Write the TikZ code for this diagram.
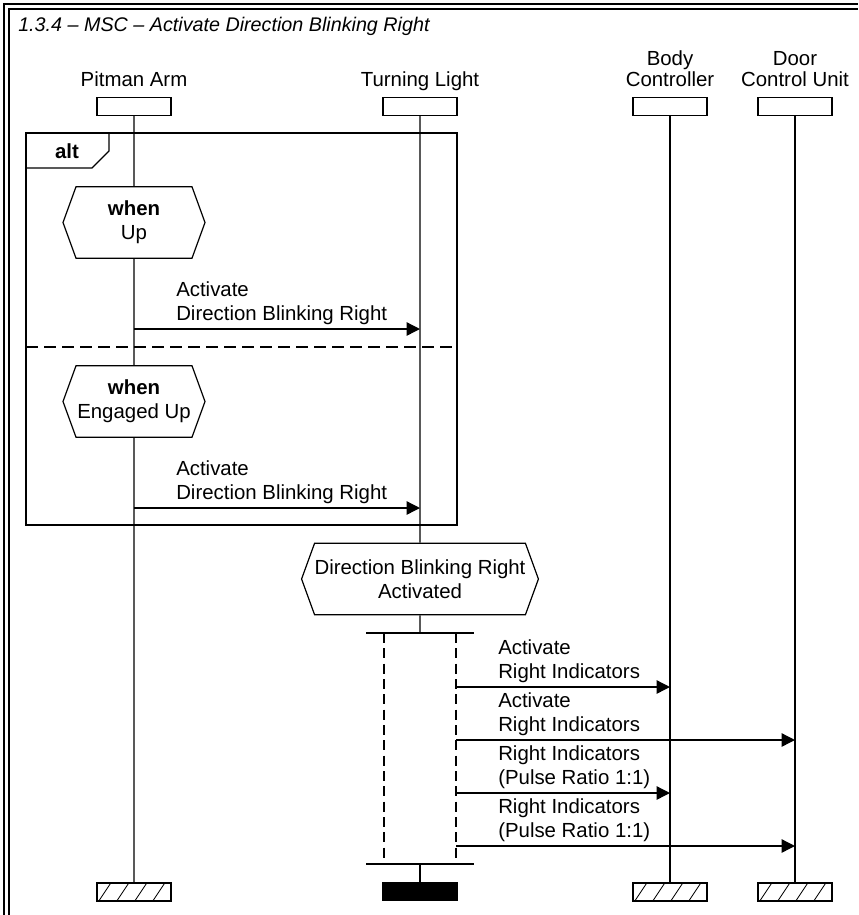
\documentclass[tikz,border=0pt]{standalone}
\usepackage{fontspec}
\setmainfont{Liberation Sans}
\usetikzlibrary{arrows.meta,shapes.symbols}

\begin{document}
\begin{tikzpicture}[x=0.75pt, y=-0.75pt,
    every node/.style={font=\fontsize{15.3}{18}\selectfont},
    headbox/.style={draw, line width=0.9pt, fill=white, minimum width=55.5pt, minimum height=13.5pt, inner sep=0pt},
    life/.style={line width=1pt},
    msg/.style={line width=1pt, -{Triangle[length=10pt, width=10pt]}},
    msglabel/.style={anchor=south west, align=left, inner sep=0pt, text depth=0pt},
    headlabel/.style={anchor=south, align=center, inner sep=0pt, text depth=0pt, font=\fontsize{15.3}{15.75}\selectfont},
    cond/.style={draw, fill=white, line width=0.9pt, shape=signal, signal to=west and east, signal pointer angle=140, align=center, inner sep=0pt, minimum height=53.5pt},
    coredash/.style={line width=1pt, dash pattern=on 7.5pt off 4pt}
  ]
    \useasboundingbox (0,0) rectangle (858,915);

    % frame and title
    \draw[line width=0.9pt] (4,915) |- (858,4);
    \draw[line width=0.9pt] (9,915) |- (858,9);
    \node[anchor=base west, inner sep=0pt, font=\itshape\fontsize{14.8}{17}\selectfont] (title) at (18,31) {1.3.4 – MSC – Activate Direction Blinking Right};

    % instances
    \node[headlabel] (pitman-lbl) at (134,87) {Pitman Arm};
    \node[headlabel] (turning-lbl) at (420,87) {Turning Light};
    \node[headlabel] (body-lbl) at (670,87) {Body\\Controller};
    \node[headlabel] (door-lbl) at (795,87) {Door\\Control Unit};

    \node[headbox] (pitman) at (134,106.5) {};
    \node[headbox] (turning) at (420,106.5) {};
    \node[headbox] (body) at (670,106.5) {};
    \node[headbox] (door) at (795,106.5) {};

    \node[headbox] (pitman-end) at (134,892) {};
    \node[headbox, fill=black] (turning-end) at (420,891.5) {};
    \node[headbox] (body-end) at (670,892) {};
    \node[headbox] (door-end) at (795,892) {};

    \foreach \n in {pitman-end, body-end, door-end} {
      \begin{scope}
        \clip (\n.south west) rectangle (\n.north east);
        \foreach \k in {0,...,4}
          \draw[line width=0.6pt] ([xshift={(2+18*\k)*0.75pt}]\n.south west) -- ++(12,-18);
      \end{scope}
    }

    % alt frame
    \draw[line width=0.9pt] (26,133) rectangle (457,525);
    \draw[line width=0.9pt] (26,168) -- (92,168) -- (109,151) -- (109,133);
    \node[font=\bfseries\fontsize{15.3}{18}\selectfont] (alt) at (67,151) {alt};
    \draw[line width=0.9pt, dash pattern=on 9pt off 4.5pt] (26,347) -- (457,347);

    % conditions
    \node[cond, minimum width=106.5pt] (when-up) at (134,222.5) {\textbf{when}\\Up};
    \node[cond, minimum width=106.5pt] (when-engaged) at (134,401.5) {\textbf{when}\\Engaged Up};
    \node[cond, minimum width=177pt] (activated) at (420,579) {Direction Blinking Right\\Activated};

    % coregion
    \coordinate (core-top) at (420,633);
    \coordinate (core-bot) at (420,864);
    \coordinate (core-left) at (384,633);
    \coordinate (core-right) at (456,633);
    \draw[life] ([xshift=-40.5pt]core-top) -- ([xshift=40.5pt]core-top);
    \draw[life] ([xshift=-40.5pt]core-bot) -- ([xshift=40.5pt]core-bot);
    \draw[coredash] (core-left) -- (core-left |- core-bot);
    \draw[coredash] (core-right) -- (core-right |- core-bot);

    % lifelines
    \draw[life] (pitman) -- (when-up) -- (when-engaged) -- (pitman-end);
    \draw[life] (turning) -- (activated) -- (core-top);
    \draw[life] (core-bot) -- (turning-end);
    \draw[life] (body) -- (body-end);
    \draw[life] (door) -- (door-end);

    % messages
    \draw[msg] (pitman |- 0,329) -- (turning |- 0,329);
    \node[msglabel] (m1) at (176,321) {Activate\\Direction Blinking Right};
    \draw[msg] (pitman |- 0,508) -- (turning |- 0,508);
    \node[msglabel] (m2) at (176,500) {Activate\\Direction Blinking Right};

    \draw[msg] (core-right |- 0,687) -- (body |- 0,687);
    \node[msglabel] (m3) at (498,679) {Activate\\Right Indicators};
    \draw[msg] (core-right |- 0,740) -- (door |- 0,740);
    \node[msglabel] (m4) at (498,732) {Activate\\Right Indicators};
    \draw[msg] (core-right |- 0,793) -- (body |- 0,793);
    \node[msglabel] (m5) at (498,785) {Right Indicators\\(Pulse Ratio 1:1)};
    \draw[msg] (core-right |- 0,846) -- (door |- 0,846);
    \node[msglabel] (m6) at (498,838) {Right Indicators\\(Pulse Ratio 1:1)};
\end{tikzpicture}
\end{document}
